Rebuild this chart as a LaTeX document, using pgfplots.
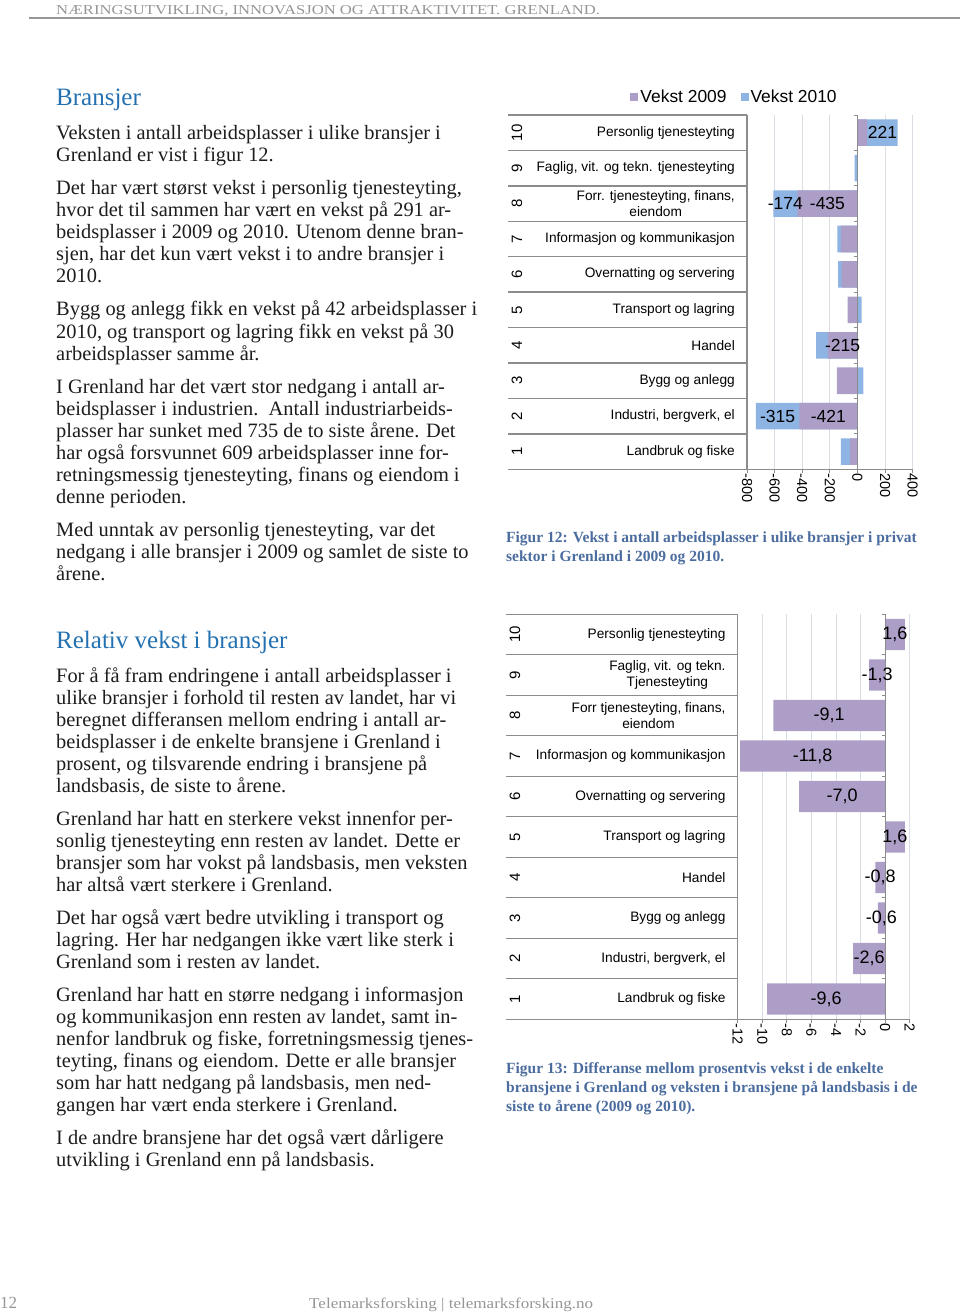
\documentclass[border=0pt]{standalone}
\usepackage{fontspec}
\setmainfont{Liberation Serif}
\newfontfamily\chartfont{Liberation Sans}
\usepackage{pgfplots}
\usepackage{pgfplotstable}
\pgfplotsset{compat=1.18}
\definecolor{purp}{RGB}{172,158,199}
\definecolor{blu}{RGB}{142,180,227}
\definecolor{titleblue}{RGB}{36,113,177}
\definecolor{capblue}{RGB}{75,108,158}
\definecolor{rowline}{RGB}{140,140,140}
\definecolor{gridc}{RGB}{217,222,228}
\definecolor{hdrgray}{RGB}{150,150,150}
\definecolor{bodyc}{RGB}{30,28,30}

\newcommand\bodyfont{\fontsize{20.4}{22}\selectfont}
\newcommand\capfont{\fontsize{15.5}{19}\selectfont\bfseries}
\newcommand\bl[2]{\node[anchor=base west, inner sep=0pt, text=bodyc, font=\bodyfont] at (56,#1) {#2};}
\newcommand\cl[2]{\node[anchor=base west, inner sep=0pt, text=capblue, font=\capfont] at (506,#1) {#2};}

% same = 1 when the 2010 value has the same sign as 2009 (stacked on it)
\pgfplotstableread{
cat v09 v10 same s09 s10
1 -53 -68 1 0 0
2 -421 -315 1 1 1
3 -150 42 0 0 0
4 -215 -85 1 1 0
5 -72 30 0 0 0
6 -114 -27 1 0 0
7 -121 -24 1 0 0
8 -435 -174 1 1 1
9 -3 -17 1 0 0
10 70 221 1 0 1
}\tabA

\pgfplotstableread{
cat v
1 -9.6
2 -2.6
3 -0.6
4 -0.8
5 1.6
6 -7.0
7 -11.8
8 -9.1
9 -1.3
10 1.6
}\tabB

\begin{document}
\begin{tikzpicture}
\path[use as bounding box] (0pt,0pt) rectangle (960pt,-1313pt);
\begin{scope}[x=1pt,y=-1pt]
% header
\node[anchor=base west, inner sep=0pt, text=hdrgray] at (56,15) {\resizebox{544pt}{9pt}{\fontsize{14}{16}\selectfont NÆRINGSUTVIKLING, INNOVASJON OG ATTRAKTIVITET. GRENLAND.}};
\draw[hdrgray, line width=2pt] (29,18.5) -- (960,18.5);
% footer
\node[anchor=base west, inner sep=0pt, text=hdrgray] at (0,1308) {\fontsize{17}{19}\selectfont 12};
\node[anchor=base west, inner sep=0pt, text=hdrgray] at (309,1308) {\resizebox{284pt}{10.5pt}{\fontsize{15}{17}\selectfont Telemarksforsking \textbar\ telemarksforsking.no}};
% titles
\node[anchor=base west, inner sep=0pt, text=titleblue, font=\fontsize{25}{28}\selectfont] at (56,106) {Bransjer};
\node[anchor=base west, inner sep=0pt, text=titleblue, font=\fontsize{25}{28}\selectfont] at (56,648) {Relativ vekst i bransjer};
% body left column
\bl{140}{Veksten i antall arbeidsplasser i ulike bransjer i}
\bl{162}{Grenland er vist i figur 12.}
\bl{195}{Det har vært størst vekst i personlig tjenesteyting,}
\bl{217}{hvor det til sammen har vært en vekst på 291 ar-}
\bl{239}{beidsplasser i 2009 og 2010. Utenom denne bran-}
\bl{261}{sjen, har det kun vært vekst i to andre bransjer i}
\bl{283}{2010.}
\bl{316}{Bygg og anlegg fikk en vekst på 42 arbeidsplasser i}
\bl{338}{2010, og transport og lagring fikk en vekst på 30}
\bl{360}{arbeidsplasser samme år.}
\bl{393}{I Grenland har det vært stor nedgang i antall ar-}
\bl{415}{beidsplasser i industrien.\ \ Antall industriarbeids-}
\bl{437}{plasser har sunket med 735 de to siste årene. Det}
\bl{459}{har også forsvunnet 609 arbeidsplasser inne for-}
\bl{481}{retningsmessig tjenesteyting, finans og eiendom i}
\bl{503}{denne perioden.}
\bl{536}{Med unntak av personlig tjenesteyting, var det}
\bl{558}{nedgang i alle bransjer i 2009 og samlet de siste to}
\bl{580}{årene.}
\bl{682}{For å få fram endringene i antall arbeidsplasser i}
\bl{704}{ulike bransjer i forhold til resten av landet, har vi}
\bl{726}{beregnet differansen mellom endring i antall ar-}
\bl{748}{beidsplasser i de enkelte bransjene i Grenland i}
\bl{770}{prosent, og tilsvarende endring i bransjene på}
\bl{792}{landsbasis, de siste to årene.}
\bl{825}{Grenland har hatt en sterkere vekst innenfor per-}
\bl{847}{sonlig tjenesteyting enn resten av landet. Dette er}
\bl{869}{bransjer som har vokst på landsbasis, men veksten}
\bl{891}{har altså vært sterkere i Grenland.}
\bl{924}{Det har også vært bedre utvikling i transport og}
\bl{946}{lagring. Her har nedgangen ikke vært like sterk i}
\bl{968}{Grenland som i resten av landet.}
\bl{1001}{Grenland har hatt en større nedgang i informasjon}
\bl{1023}{og kommunikasjon enn resten av landet, samt in-}
\bl{1045}{nenfor landbruk og fiske, forretningsmessig tjenes-}
\bl{1067}{teyting, finans og eiendom. Dette er alle bransjer}
\bl{1089}{som har hatt nedgang på landsbasis, men ned-}
\bl{1111}{gangen har vært enda sterkere i Grenland.}
\bl{1144}{I de andre bransjene har det også vært dårligere}
\bl{1166}{utvikling i Grenland enn på landsbasis.}
% captions
\cl{542}{Figur 12: Vekst i antall arbeidsplasser i ulike bransjer i privat}
\cl{561}{sektor i Grenland i 2009 og 2010.}
\cl{1073}{Figur 13: Differanse mellom prosentvis vekst i de enkelte}
\cl{1092}{bransjene i Grenland og veksten i bransjene på landsbasis i de}
\cl{1111}{siste to årene (2009 og 2010).}
% table lines and row numbers chart 1
\foreach \k in {0,...,10} \draw[rowline, line width=1.3pt] (508,{115+\k*35.43}) -- (747,{115+\k*35.43});
\foreach \i in {1,...,10} \node[rotate=90, inner sep=0pt, font=\chartfont\fontsize{15}{17}\selectfont] at (517,{469.3-(\i-0.5)*35.43}) {\i};
% table lines and row numbers chart 2
\foreach \k in {0,...,10} \draw[rowline, line width=1.3pt] (506,{614.3+\k*40.5}) -- (737.7,{614.3+\k*40.5});
\foreach \i in {1,...,10} \node[rotate=90, inner sep=0pt, font=\chartfont\fontsize{15}{17}\selectfont] at (515,{1019.3-(\i-0.5)*40.5}) {\i};
\coordinate (c1) at (747,469.3);
\coordinate (c2) at (737.7,1019.3);
\end{scope}

\pgfplotsset{
  mychart/.style={
    scale only axis, clip=false,
    axis x line*=bottom, axis y line*=left,
    axis line style={-, draw=rowline, line width=1.3pt},
    ytick={1,...,10},
    ytick style={draw=none},
    xtick style={draw=rowline, line width=0.8pt},
    tick align=outside, major tick length=4pt,
    xmajorgrids, grid style={gridc, line width=0.8pt},
    ymin=0.5, ymax=10.5,
    /pgf/number format/assume math mode=true,
    yticklabel style={align=center, anchor=east, inner sep=0pt, xshift=-8pt, font=\chartfont\fontsize{13.7}{15.5}\selectfont},
    xticklabel style={rotate=-90, anchor=west, inner sep=0pt, font=\chartfont\fontsize{14.5}{16}\selectfont},
  }
}

\begin{axis}[mychart,
  at={(c1)}, anchor=south west,
  width=165.7pt, height=354.3pt,
  xmin=-800, xmax=400,
  xtick={-800,-600,-400,-200,0,200,400},
  yticklabels={Landbruk og fiske, {Industri, bergverk, el}, Bygg og anlegg, Handel, Transport og lagring, Overnatting og servering, Informasjon og kommunikasjon, {Forr. tjenesteyting, finans,\\eiendom}, {Faglig, vit. og tekn. tjenesteyting}, Personlig tjenesteyting},
  legend style={draw=none, fill=none, at={(axis description cs:-0.075,1.051)}, anchor=center, legend columns=2, font=\chartfont\fontsize{17.4}{19}\selectfont, /tikz/every even column/.append style={column sep=12pt}},
  legend image code/.code={\fill[#1] (0pt,-4pt) rectangle (8pt,4pt);},
]
\addlegendimage{fill=purp, draw=none}\addlegendentry{Vekst 2009}
\addlegendimage{fill=blu, draw=none}\addlegendentry{Vekst 2010}
\addplot[xbar, bar width=0.75, bar shift=0pt, fill=blu, draw=none, forget plot]
  table[x expr={\thisrow{v10}+\thisrow{same}*\thisrow{v09}}, y=cat] \tabA;
\addplot[xbar, bar width=0.75, bar shift=0pt, fill=purp, draw=none, forget plot]
  table[x=v09, y=cat] \tabA;
\draw[rowline, line width=0.8pt] (axis cs:0,0.5) -- (axis cs:0,10.5);
\pgfplotsinvokeforeach{0.5,1.5,2.5,3.5,4.5,5.5,6.5,7.5,8.5,9.5,10.5}{\draw[rowline, line width=0.8pt] (axis cs:0,#1) -- ++(-3pt,0pt);}
\addplot[draw=none, mark=none, forget plot, point meta=explicit,
  visualization depends on={\thisrow{s09} \as \showA},
  nodes near coords={\ifdim\showA pt>0.5pt\pgfmathprintnumber{\pgfplotspointmeta}\fi},
  every node near coord/.append style={anchor=center, inner sep=0pt, font=\chartfont\fontsize{17.5}{19}\selectfont}]
  table[x expr=\thisrow{v09}/2, y=cat, meta=v09] \tabA;
\addplot[draw=none, mark=none, forget plot, point meta=explicit,
  visualization depends on={\thisrow{s10} \as \showB},
  nodes near coords={\ifdim\showB pt>0.5pt\pgfmathprintnumber{\pgfplotspointmeta}\fi},
  every node near coord/.append style={anchor=center, inner sep=0pt, font=\chartfont\fontsize{17.5}{19}\selectfont}]
  table[x expr={\thisrow{v10}/2+\thisrow{same}*\thisrow{v09}}, y=cat, meta=v10] \tabA;
\end{axis}

\begin{axis}[mychart,
  at={(c2)}, anchor=south west,
  width=172pt, height=405pt,
  xmin=-12, xmax=2,
  xtick={-12,-10,...,2},
  yticklabels={Landbruk og fiske, {Industri, bergverk, el}, Bygg og anlegg, Handel, Transport og lagring, Overnatting og servering, Informasjon og kommunikasjon, {Forr tjenesteyting, finans,\\eiendom}, {Faglig, vit. og tekn.\\Tjenesteyting}, Personlig tjenesteyting},
]
\addplot[xbar, bar width=0.77, bar shift=0pt, fill=purp, draw=none, forget plot]
  table[x=v, y=cat] \tabB;
\draw[rowline, line width=0.8pt] (axis cs:0,0.5) -- (axis cs:0,10.5);
\pgfplotsinvokeforeach{0.5,1.5,2.5,3.5,4.5,5.5,6.5,7.5,8.5,9.5,10.5}{\draw[rowline, line width=0.8pt] (axis cs:0,#1) -- ++(-3pt,0pt);}
\addplot[draw=none, mark=none, forget plot, point meta=explicit,
  nodes near coords={\pgfmathprintnumber[fixed, precision=1, fixed zerofill, use comma]{\pgfplotspointmeta}},
  every node near coord/.append style={anchor=center, inner sep=0pt, font=\chartfont\fontsize{18}{19}\selectfont}]
  table[x expr=\thisrow{v}/2, y=cat, meta=v] \tabB;
\end{axis}
\end{tikzpicture}
\end{document}
